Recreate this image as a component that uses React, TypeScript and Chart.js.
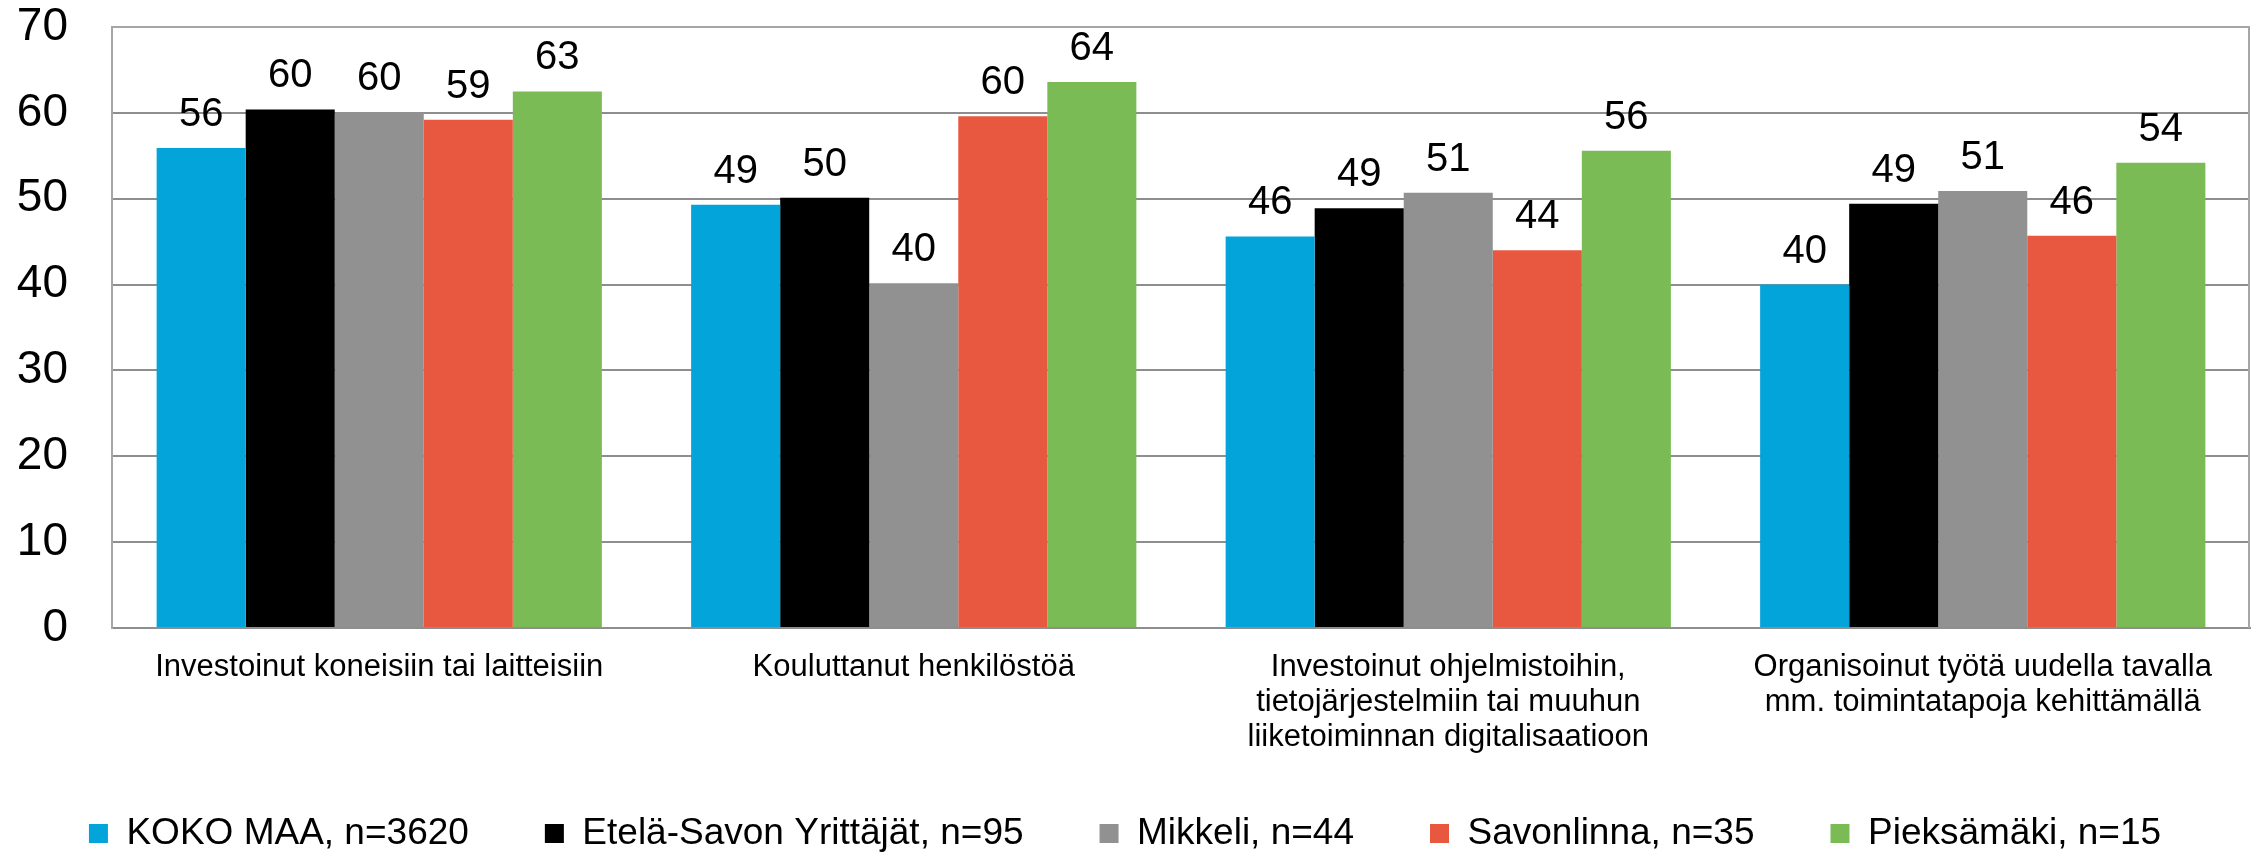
import React, { useEffect, useRef } from "react";
import { Chart, registerables } from "chart.js";

Chart.register(...registerables);

const categories: string[][] = [
  ["Investoinut koneisiin tai laitteisiin"],
  ["Kouluttanut henkilöstöä"],
  ["Investoinut ohjelmistoihin,", "tietojärjestelmiin tai muuhun", "liiketoiminnan digitalisaatioon"],
  ["Organisoinut työtä uudella tavalla", "mm. toimintatapoja kehittämällä"],
];

const seriesNames = [
  "KOKO MAA, n=3620",
  "Etelä-Savon Yrittäjät, n=95",
  "Mikkeli, n=44",
  "Savonlinna, n=35",
  "Pieksämäki, n=15",
];

const kokoMaa = [55.9, 49.3, 45.6, 40.0];
const etelaSavo = [60.4, 50.1, 48.9, 49.4];
const mikkeli = [60.1, 40.15, 50.7, 50.9];
const savonlinna = [59.2, 59.6, 44.0, 45.7];
const pieksamaki = [62.5, 63.6, 55.6, 54.2];

const seriesColors = ["#02A4DA", "#000000", "#919191", "#E85840", "#7BBB56"];

const yMin = 0;
const yMax = 70;
const yStep = 10;

const FONT = "'Liberation Sans', Arial, sans-serif";

const valueLabels = {
  id: "valueLabels",
  afterDatasetsDraw(chart: any) {
    const ctx = chart.ctx;
    ctx.save();
    ctx.font = `40px ${FONT}`;
    ctx.fillStyle = "#000000";
    ctx.textAlign = "center";
    ctx.textBaseline = "alphabetic";
    chart.data.datasets.forEach((ds: any, i: number) => {
      const meta = chart.getDatasetMeta(i);
      meta.data.forEach((bar: any, j: number) => {
        const v = ds.data[j];
        ctx.fillText(String(Math.round(v)), bar.x, bar.y - 22);
      });
    });
    ctx.restore();
  },
};

const rightBorder = {
  id: "rightBorder",
  afterLayout(chart: any) {
    // let the multi-line category labels extend below the axis box
    if (chart.scales.x) chart.scales.x.bottom = chart.height;
  },
  afterDraw(chart: any) {
    const { ctx, chartArea } = chart;
    ctx.save();
    ctx.strokeStyle = "#A6A6A6";
    ctx.lineWidth = 2;
    ctx.beginPath();
    ctx.moveTo(chartArea.right - 1, chartArea.top);
    ctx.lineTo(chartArea.right - 1, chartArea.bottom);
    ctx.stroke();
    ctx.restore();
  },
};

export default function App() {
  const ref = useRef<HTMLCanvasElement | null>(null);

  useEffect(() => {
    document.body.style.margin = "0";
    const canvas = ref.current;
    if (!canvas) return;
    const values = [kokoMaa, etelaSavo, mikkeli, savonlinna, pieksamaki];
    const chart = new Chart(canvas, {
      type: "bar",
      data: {
        labels: categories,
        datasets: values.map((d, i) => ({
          label: seriesNames[i],
          data: d,
          backgroundColor: seriesColors[i],
          borderWidth: 0,
          barPercentage: 1.0,
          categoryPercentage: 0.833,
        })),
      },
      options: {
        animation: false,
        responsive: false,
        devicePixelRatio: 1,
        layout: { padding: { top: 27, right: 10, bottom: -10, left: 0 } },
        plugins: {
          tooltip: { enabled: false },
          legend: {
            display: true,
            position: "bottom",
            labels: {
              boxWidth: 19,
              boxHeight: 19,
              padding: 76,
              color: "#000000",
              font: { family: FONT, size: 37 },
            },
          },
        },
        scales: {
          x: {
            grid: { display: false, drawTicks: false },
            border: { display: true, color: "#8E8E8E", width: 2 },
            ticks: {
              color: "#000000",
              font: { family: FONT, size: 31, lineHeight: 35 / 31 },
              padding: 22,
              maxRotation: 0,
              minRotation: 0,
              autoSkip: false,
            },
            afterFit(scale: any) {
              scale.height = 111;
            },
          },
          y: {
            min: yMin,
            max: yMax,
            ticks: {
              stepSize: yStep,
              color: "#000000",
              font: { family: FONT, size: 46, lineHeight: 1 },
              padding: 44,
            },
            grid: {
              drawTicks: false,
              lineWidth: 2,
              color: (c: any) => (c.tick && c.tick.value === yMax ? "#A6A6A6" : "#8E8E8E"),
            },
            border: { display: true, color: "#A6A6A6", width: 2 },
            afterFit(scale: any) {
              scale.width = 112;
              scale.paddingTop = 0;
              scale.paddingBottom = 0;
            },
          },
        },
      },
      plugins: [valueLabels, rightBorder],
    });
    return () => chart.destroy();
  }, []);

  return <canvas ref={ref} width={2260} height={852} style={{ display: "block" }} />;
}
